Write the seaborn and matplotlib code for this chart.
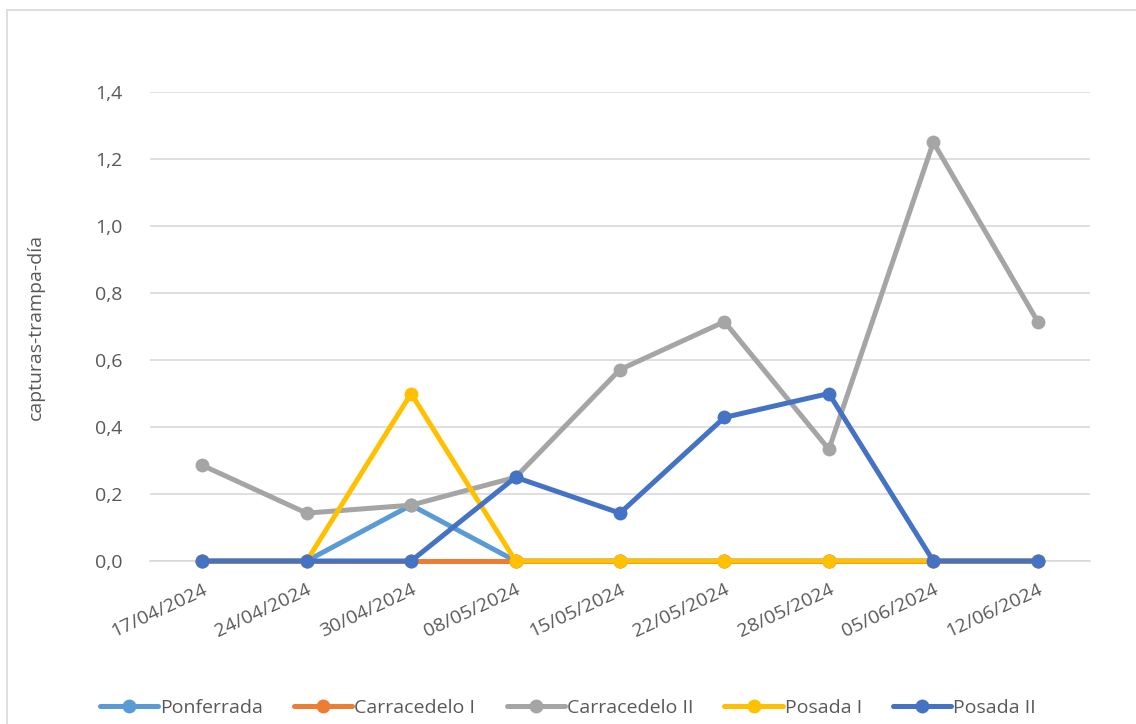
import matplotlib
matplotlib.use("Agg")
import matplotlib.pyplot as plt
from matplotlib.lines import Line2D
import seaborn as sns
import pandas as pd

# datos
fechas = ['17/04/2024', '24/04/2024', '30/04/2024', '08/05/2024', '15/05/2024',
          '22/05/2024', '28/05/2024', '05/06/2024', '12/06/2024']
ponferrada = [0, 0, 0.1667, 0, 0, 0, 0, 0, 0]
carracedelo_1 = [0, 0, 0, 0, 0, 0, 0, 0, 0]
carracedelo_2 = [0.2857, 0.1429, 0.1667, 0.25, 0.5714, 0.7143, 0.3333, 1.25, 0.7143]
posada_1 = [0, 0, 0.5, 0, 0, 0, 0, 0, 0]
posada_2 = [0, 0, 0, 0.25, 0.1429, 0.4286, 0.5, 0, 0]

series = {'Ponferrada': ponferrada, 'Carracedelo I': carracedelo_1,
          'Carracedelo II': carracedelo_2, 'Posada I': posada_1, 'Posada II': posada_2}
colores = ['#5B9BD5', '#ED7D31', '#A5A5A5', '#FFC000', '#4472C4']

filas = []
for nombre, vals in series.items():
    for f, v in zip(fechas, vals):
        filas.append({'fecha': f, 'valor': v, 'serie': nombre})
df = pd.DataFrame(filas)

sns.set_style("white")
plt.rcParams['font.family'] = ['Open Sans', 'DejaVu Sans']
gris = '#595959'

fig = plt.figure(figsize=(11.36, 7.24), dpi=100)
ax = fig.add_axes([150 / 1136, 1 - 561 / 724, 940 / 1136, 469 / 724])

sns.lineplot(data=df, x='fecha', y='valor', hue='serie', palette=colores,
             marker='o', markersize=10, markeredgewidth=0, linewidth=3.6,
             sort=False, legend=False, ax=ax)
for i, ln in enumerate(ax.lines):
    ln.set_clip_on(False)
    ln.set_zorder(3 + i)

ax.set_xlim(-0.5, len(fechas) - 0.5)
ax.set_ylim(0, 1.4)
ax.set_yticks([0, 0.2, 0.4, 0.6, 0.8, 1.0, 1.2, 1.4])
ax.set_yticklabels([f'{v:.1f}'.replace('.', ',') for v in ax.get_yticks()])
ax.yaxis.grid(True, color='#D9D9D9', linewidth=1.2)
ax.set_axisbelow(True)
for s in ['top', 'right', 'left']:
    ax.spines[s].set_visible(False)
ax.spines['bottom'].set_color('#D9D9D9')
ax.spines['bottom'].set_linewidth(1.2)
ax.spines['bottom'].set_zorder(1)

ax.set_xticks(range(len(fechas)))
ax.set_xticklabels(fechas, rotation=25, ha='right', rotation_mode='anchor')
ax.set_xticks([i - 0.5 for i in range(len(fechas) + 1)], minor=True)
ax.tick_params(axis='x', which='major', length=0, pad=14, labelsize=14, labelcolor=gris)
ax.tick_params(axis='x', which='minor', length=6, color='#D9D9D9', width=1.2)
ax.tick_params(axis='y', length=0, pad=20, labelsize=14, labelcolor=gris)

ax.set_xlabel('')
ax.set_ylabel('capturas-trampa-día', fontsize=14, color=gris, labelpad=36)

handles = [Line2D([], [], color=c, linewidth=3.6, marker='o', markersize=10,
                  markeredgewidth=0) for c in colores]
fig.legend(handles, list(series.keys()), loc='center', bbox_to_anchor=(0.5, 1 - 708 / 724),
           ncol=5, frameon=False, fontsize=14, labelcolor=gris, handlelength=3.0,
           handletextpad=0.1, columnspacing=1.6)

# marco del grafico
fig.add_artist(Line2D([7 / 1136, 1], [1 - 10 / 724] * 2, color='#D9D9D9', linewidth=1.2))
fig.add_artist(Line2D([7 / 1136] * 2, [0, 1 - 10 / 724], color='#D9D9D9', linewidth=1.2))

fig.savefig('out.png', dpi=100)
